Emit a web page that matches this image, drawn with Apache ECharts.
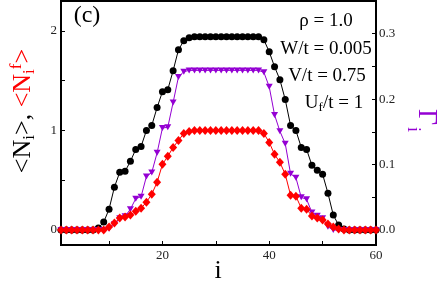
<!DOCTYPE html>
<html>
<head>
<meta charset="utf-8">
<script src="https://cdn.jsdelivr.net/npm/echarts@6/dist/echarts.min.js"></script>
<style>
html,body{margin:0;padding:0;background:#fff;}
#chart{width:437px;height:282px;}
</style>
</head>
<body>
<div id="chart"></div>
<script>
// site index i
var sites = [1,2,3,4,5,6,7,8,9,10,11,12,13,14,15,16,17,18,19,20,21,22,23,24,25,26,27,28,29,30,31,32,33,34,35,36,37,38,39,40,41,42,43,44,45,46,47,48,49,50,51,52,53,54,55,56,57,58,59,60];
// <N_i> (black, left axis)
var nTotal = [0,0,0,0,0,0,0,0.02,0.08,0.21, 0.43,0.58,0.59,0.69,0.81,0.84,1.00,1.05,1.23,1.39, 1.41,1.60,1.81,1.90,1.93,1.94,1.94,1.94,1.94,1.94, 1.94,1.94,1.94,1.94,1.94,1.94,1.94,1.94,1.91,1.79, 1.64,1.51,1.31,1.05,1.00,0.83,0.81,0.65,0.60,0.56, 0.37,0.15,0.05,0.01,0,0,0,0,0,0];
// <N_i^f> (red, left axis)
var nF = [0,0,0,0,0,0,0,0,0,0.03, 0.07,0.12,0.13,0.15,0.19,0.22,0.28,0.36,0.48,0.66, 0.74,0.83,0.90,0.97,0.99,1.0,1.0,1.0,1.0,1.0, 1.0,1.0,1.0,1.0,1.0,1.0,1.0,1.0,0.97,0.88, 0.76,0.68,0.56,0.35,0.34,0.22,0.21,0.14,0.12,0.10, 0.06,0.03,0.01,0,0,0,0,0,0,0];
// Gamma_i (purple, right axis)
var gamma = [0,0,0,0,0,0,0,0,0,0.002, 0.009,0.018,0.021,0.032,0.048,0.051,0.082,0.088,0.118,0.156, 0.157,0.195,0.234,0.242,0.244,0.244,0.244,0.244,0.244,0.244, 0.244,0.244,0.244,0.244,0.244,0.244,0.244,0.244,0.241,0.219, 0.176,0.151,0.132,0.086,0.080,0.050,0.047,0.027,0.022,0.018, 0.005,0,0,0,0,0,0,0,0,0];
// tick values
var xTicks = [10,20,30,40,50,60];
var xLabels = [20,40,60];
var yLeftTicks = [0,0.5,1,1.5,2];
var yLeftLabels = [0,1,2];
var yRightTicks = [0,0.05,0.1,0.15,0.2,0.25,0.3];
var yRightLabels = [0,0.1,0.2,0.3];

function pairs(xs, ys){ return xs.map(function(x,k){ return [x, ys[k]]; }); }

var FONT = 'Liberation Serif';
var PURPLE = '#9400D3';
var chart = echarts.init(document.getElementById('chart'), null, {renderer:'canvas'});
var axisLineStyle = {color:'#000', width:2};
function txt(x, y, s, size, color, rot){
  return {type:'text', x:x, y:y, rotation:rot||0, style:{text:s, font:size+'px "Liberation Serif"', fill:color||'#000',
    align:'center', verticalAlign:'middle', textAlign:'center', textVerticalAlign:'middle'}};
}
var option = {
  animation:false,
  backgroundColor:'#fff',
  grid:{left:61, right:61, top:1, bottom:37, show:true, borderColor:'#000', borderWidth:2, backgroundColor:'transparent', containLabel:false, outerBoundsMode:'none'},
  xAxis:{
    type:'value', min:1, max:60,
    axisLine:{show:true, onZero:false, lineStyle:axisLineStyle},
    axisTick:{show:true, inside:true, length:4, customValues:xTicks, lineStyle:{color:'#000', width:1}},
    axisLabel:{show:true, customValues:xLabels, margin:4, fontFamily:FONT, fontSize:13, color:'#222'},
    splitLine:{show:false}
  },
  yAxis:[{
    type:'value', min:-0.15, max:2.3, position:'left',
    axisLine:{show:true, onZero:false, lineStyle:axisLineStyle},
    axisTick:{show:true, inside:true, length:4, customValues:yLeftTicks, lineStyle:{color:'#000', width:1}},
    axisLabel:{show:true, customValues:yLeftLabels, margin:4, fontFamily:FONT, fontSize:13, color:'#222'},
    splitLine:{show:false}
  },{
    type:'value', min:-0.0228, max:0.35, position:'right',
    axisLine:{show:true, onZero:false, lineStyle:axisLineStyle},
    axisTick:{show:true, inside:true, length:4, customValues:yRightTicks, lineStyle:{color:'#000', width:1}},
    axisLabel:{show:true, customValues:yRightLabels, margin:3, fontFamily:FONT, fontSize:13, color:'#222',
      formatter:function(v){ return v.toFixed(1); }},
    splitLine:{show:false}
  }],
  series:[{
    type:'line', yAxisIndex:0, data:pairs(sites, nTotal),
    symbol:'circle', symbolSize:7,
    lineStyle:{color:'#000', width:1}, itemStyle:{color:'#000'}
  },{
    type:'line', yAxisIndex:1, data:pairs(sites, gamma),
    symbol:'path://M0,0 L10,0 L5,9 Z', symbolSize:[7,6],
    lineStyle:{color:PURPLE, width:1}, itemStyle:{color:PURPLE}
  },{
    type:'line', yAxisIndex:0, data:pairs(sites, nF),
    symbol:'diamond', symbolSize:[8,9],
    lineStyle:{color:'#ff0000', width:1}, itemStyle:{color:'#ff0000'}
  }],
  graphic:[
    txt(87, 16, '(c)', 24),
    txt(218, 271, 'i', 26),
    txt(326, 21, 'ρ = 1.0', 19),
    txt(326, 49, 'W/t = 0.005', 19),
    txt(327, 76, 'V/t = 0.75', 19),
    {type:'text', x:334, y:103, style:{text:'{a|U}{s|f}{a|/t = 1}', align:'center', verticalAlign:'middle', textAlign:'center', textVerticalAlign:'middle',
      rich:{a:{fontFamily:FONT, fontSize:19, lineHeight:22, fill:'#000', color:'#000'}, s:{fontFamily:FONT, fontSize:13, lineHeight:9, verticalAlign:'bottom', fill:'#000', color:'#000'}}}},
    {type:'text', x:23, y:111, rotation:Math.PI/2, style:{text:'{k|<N}{ks|i}{k|>, }{r|<N}{rs|i}{rp|f}{r|>}', align:'center', verticalAlign:'middle', textAlign:'center', textVerticalAlign:'middle',
      rich:{
        k:{fontFamily:FONT, fontSize:26, lineHeight:30, fill:'#000', color:'#000'},
        ks:{fontFamily:FONT, fontSize:17, lineHeight:12, verticalAlign:'bottom', fill:'#000', color:'#000'},
        r:{fontFamily:FONT, fontSize:26, lineHeight:30, fill:'#ff0000', color:'#ff0000'},
        rs:{fontFamily:FONT, fontSize:17, lineHeight:12, verticalAlign:'bottom', fill:'#ff0000', color:'#ff0000'},
        rp:{fontFamily:FONT, fontSize:17, lineHeight:12, verticalAlign:'top', fill:'#ff0000', color:'#ff0000'}
      }}},
    txt(426.5, 117, 'Γ', 28, PURPLE, -Math.PI/2),
    txt(412.5, 129.5, 'i', 18, PURPLE, -Math.PI/2)
  ]
};
chart.setOption(option);
</script>
</body>
</html>
